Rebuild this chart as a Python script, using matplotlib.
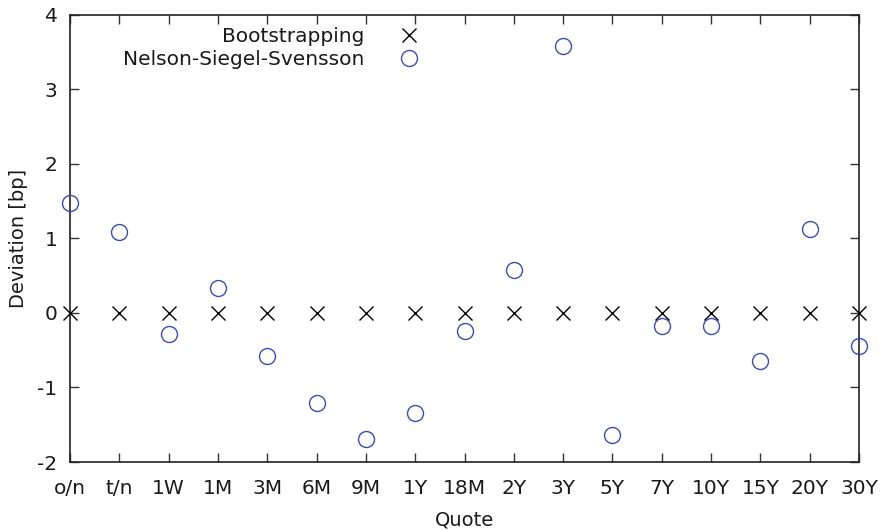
import matplotlib.pyplot as plt
import numpy as np

quotes = ['o/n', 't/n', '1W', '1M', '3M', '6M', '9M', '1Y', '18M', '2Y',
          '3Y', '5Y', '7Y', '10Y', '15Y', '20Y', '30Y']
bootstrap = [0.0] * len(quotes)
nss = [1.47, 1.09, -0.28, 0.33, -0.58, -1.21, -1.69, -1.34, -0.25, 0.57,
       3.58, -1.64, -0.18, -0.17, -0.65, 1.13, -0.44]

plt.rcParams['font.family'] = 'DejaVu Sans'

fig = plt.figure(figsize=(8.84, 5.31), dpi=100)
ax = fig.add_axes([70/884, 1-462/531, (859-70)/884, (462-14.5)/531])

x = np.arange(len(quotes))
ax.plot(x, bootstrap, ls='none', marker='x', ms=10, mew=1.0, color='black',
        label='Bootstrapping', clip_on=False, zorder=3)
ax.plot(x, nss, ls='none', marker='o', ms=11.5, mew=1.0, mfc='none',
        mec='#3a4db3', label='Nelson-Siegel-Svensson', clip_on=False, zorder=3)

ax.set_xlim(0, len(quotes) - 1)
ax.set_ylim(-2, 4)
ax.set_xticks(x)
ax.set_xticklabels(quotes)
ax.set_yticks(np.arange(-2, 5, 1))
ax.set_yticklabels([str(v) for v in range(-2, 5)])
ax.tick_params(direction='in', length=6.5, width=1, top=True, right=True,
               labelsize=14.5, color='#333333', labelcolor='#1a1a1a')
ax.tick_params(axis='x', pad=12)
ax.tick_params(axis='y', pad=9)
ax.set_xlabel('Quote', fontsize=14, labelpad=9, color='#1a1a1a')
ax.set_ylabel('Deviation [bp]', fontsize=14, labelpad=7, color='#1a1a1a')
for s in ax.spines.values():
    s.set_linewidth(1.2)
    s.set_color('#222222')

leg = ax.legend(loc='upper right', bbox_to_anchor=((424-70)/789, 0.972),
                frameon=False, markerfirst=False, fontsize=14.5,
                handletextpad=1.45, labelspacing=0.2, handlelength=1.5,
                borderpad=0, borderaxespad=0)
for t in leg.get_texts():
    t.set_color('#1a1a1a')

fig.savefig('out.png', dpi=100)
